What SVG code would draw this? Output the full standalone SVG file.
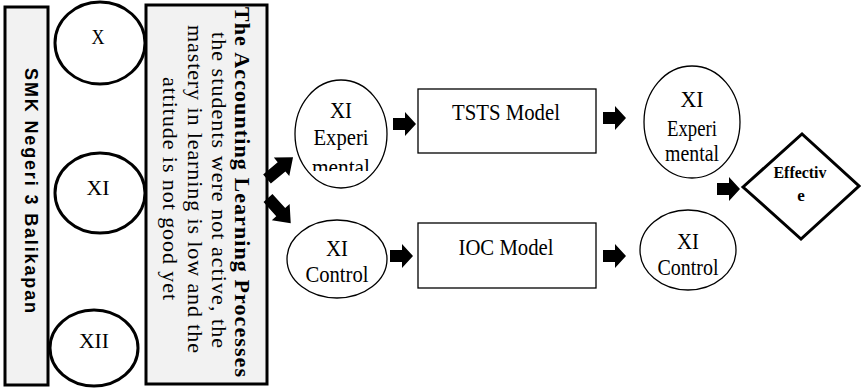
<svg xmlns="http://www.w3.org/2000/svg" width="861" height="388" viewBox="0 0 861 388">
<style>
.thick{fill:#fff;stroke:#000;stroke-width:3}
.gray{fill:#f2f2f2;stroke:#000;stroke-width:3}
.thin{fill:#fff;stroke:#000;stroke-width:1.3}
.t{font-family:"Liberation Serif","Times New Roman",serif;font-size:24px;fill:#000;text-anchor:middle}
.tb{font-family:"Liberation Serif","Times New Roman",serif;font-weight:bold;fill:#000;text-anchor:middle}
.sb{font-family:"Liberation Sans",Arial,sans-serif;font-weight:bold;font-size:18px;fill:#000;text-anchor:middle}
.arr{fill:#000}
</style>
<defs>
<path id="ra" d="M0,-6 H12 V-12 L23,0 L12,12 V6 H0 Z"/>
<path id="da" d="M0,-6 H19 V-12 L34,0 L19,12 V6 H0 Z"/>
<clipPath id="clipMental"><rect x="290" y="60" width="110" height="111"/></clipPath>
</defs>

<g id="school">
<rect class="gray" x="5" y="7" width="43" height="378"/>
<text class="sb" transform="translate(25,190.5) rotate(90)" x="0" y="0" textLength="245" lengthAdjust="spacing">SMK Negeri  3 Balikapan</text>
</g>

<g id="classX">
<ellipse class="thick" cx="100" cy="43" rx="45" ry="41"/>
<text class="t" style="font-size:22px" x="98" y="44" textLength="13" lengthAdjust="spacingAndGlyphs">X</text>
</g>
<g id="classXI">
<ellipse class="thick" cx="100" cy="193" rx="45" ry="40"/>
<text class="t" style="font-size:22px" x="98" y="195" textLength="23" lengthAdjust="spacingAndGlyphs">XI</text>
</g>
<g id="classXII">
<ellipse class="thick" cx="94" cy="348" rx="44" ry="38"/>
<text class="t" style="font-size:22px" x="94" y="348" textLength="30" lengthAdjust="spacingAndGlyphs">XII</text>
</g>

<g id="process">
<rect class="gray" x="146" y="5" width="121" height="379"/>
<g transform="translate(235,190) rotate(90)">
<text class="tb" style="font-size:22px" x="2" y="0" textLength="370" lengthAdjust="spacing">The Accounting Learning Processes</text>
<text class="t" style="font-size:22px" x="0" y="23" textLength="316" lengthAdjust="spacing">the students were not active, the</text>
<text class="t" style="font-size:22px" x="-1" y="47" textLength="328" lengthAdjust="spacing">mastery in learning is low and the</text>
<text class="t" style="font-size:22px" x="-1.5" y="72" textLength="223" lengthAdjust="spacing">attitude is not good yet</text>
</g>
</g>

<g id="expPre">
<ellipse class="thin" cx="341" cy="134" rx="46" ry="54"/>
<text class="t" x="341" y="118" textLength="22" lengthAdjust="spacingAndGlyphs">XI</text>
<text class="t" x="341" y="145" textLength="55" lengthAdjust="spacingAndGlyphs">Experi</text>
<text class="t" x="341" y="175" textLength="58" lengthAdjust="spacingAndGlyphs" clip-path="url(#clipMental)">mental</text>
</g>
<g id="ctrlPre">
<ellipse class="thin" cx="337" cy="259" rx="50" ry="39"/>
<text class="t" x="337" y="256" textLength="22" lengthAdjust="spacingAndGlyphs">XI</text>
<text class="t" x="337" y="282" textLength="63" lengthAdjust="spacingAndGlyphs">Control</text>
</g>

<g id="tsts">
<rect class="thin" x="418" y="89" width="178" height="64"/>
<text class="t" x="506" y="120" textLength="108" lengthAdjust="spacingAndGlyphs">TSTS Model</text>
</g>
<g id="ioc">
<rect class="thin" x="418" y="223" width="178" height="65"/>
<text class="t" x="506" y="255" textLength="95" lengthAdjust="spacingAndGlyphs">IOC Model</text>
</g>

<g id="expPost">
<ellipse class="thin" cx="692" cy="122" rx="48" ry="56"/>
<text class="t" x="692" y="107" textLength="23" lengthAdjust="spacingAndGlyphs">XI</text>
<text class="t" x="692" y="136" textLength="50" lengthAdjust="spacingAndGlyphs">Experi</text>
<text class="t" x="692" y="161" textLength="54" lengthAdjust="spacingAndGlyphs">mental</text>
</g>
<g id="ctrlPost">
<ellipse class="thin" cx="688" cy="250" rx="48" ry="40"/>
<text class="t" x="688" y="249" textLength="22" lengthAdjust="spacingAndGlyphs">XI</text>
<text class="t" x="688" y="275" textLength="61" lengthAdjust="spacingAndGlyphs">Control</text>
</g>

<g id="effective">
<polygon class="thick" points="743,187 802,134 859,186 801,239"/>
<text class="tb" style="font-size:17px" x="800" y="178" textLength="53" lengthAdjust="spacingAndGlyphs">Effectiv</text>
<text class="tb" style="font-size:17px" x="801" y="201">e</text>
</g>

<g id="connectors" class="arr">
<use href="#da" transform="translate(267,179) rotate(-40)"/>
<use href="#da" transform="translate(268,198) rotate(48)"/>
<use href="#ra" transform="translate(393,124)"/>
<use href="#ra" transform="translate(390,256)"/>
<use href="#ra" transform="translate(603,118)"/>
<use href="#ra" transform="translate(603,256)"/>
<use href="#ra" transform="translate(717,189)"/>
</g>
</svg>
